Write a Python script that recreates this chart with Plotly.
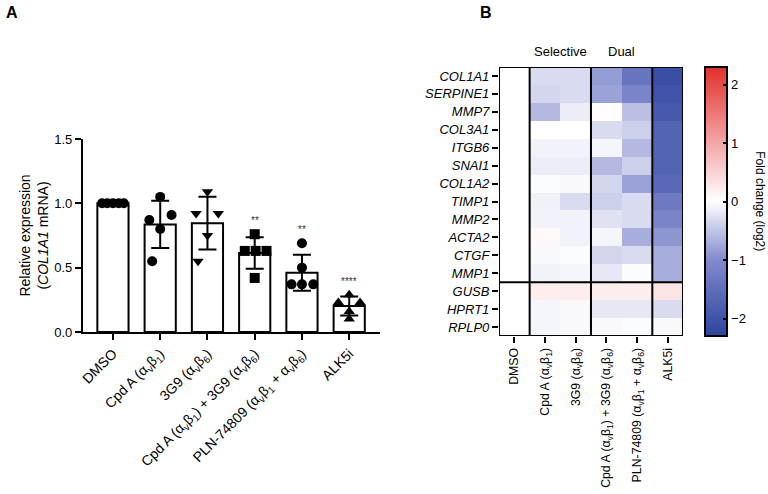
import numpy as np
import plotly.graph_objects as go

# ---------------- Panel A data ----------------
groups = ["DMSO", "Cpd A (α<sub>v</sub>β<sub>1</sub>)", "3G9 (α<sub>v</sub>β<sub>6</sub>)",
          "Cpd A (α<sub>v</sub>β<sub>1</sub>) + 3G9 (α<sub>v</sub>β<sub>6</sub>)",
          "PLN-74809 (α<sub>v</sub>β<sub>1</sub> + α<sub>v</sub>β<sub>6</sub>)", "ALK5i"]
dmso_vals = [1.0, 1.0, 1.0, 1.0, 1.0]
cpda_vals = [1.05, 0.87, 0.91, 0.80, 0.55]
g3g9_vals = [1.09, 0.92, 0.92, 0.75, 0.55]
combo_vals = [0.76, 0.63, 0.63, 0.63, 0.42]
pln_vals = [0.69, 0.50, 0.37, 0.37, 0.37]
alk5i_vals = [0.29, 0.23, 0.23, 0.16, 0.10]
point_sets = [dmso_vals, cpda_vals, g3g9_vals, combo_vals, pln_vals, alk5i_vals]
significance = ["", "", "", "**", "**", "****"]
y_ticks = [0, 0.5, 1.0, 1.5]
# horizontal spread of the scatter points (style)
spread = [[-0.23, -0.12, 0.0, 0.12, 0.23],
          [0.0, -0.23, 0.24, 0.0, -0.17],
          [0.0, -0.24, 0.23, 0.0, -0.2],
          [0.0, -0.21, 0.25, 0.02, 0.0],
          [0.0, 0.0, -0.22, 0.0, 0.24],
          [0.0, -0.23, 0.23, 0.0, 0.0]]
symbols = ["circle", "circle", "triangle-down", "square", "circle", "triangle-up"]

# ---------------- Panel B data ----------------
genes = ["COL1A1", "SERPINE1", "MMP7", "COL3A1", "ITGB6", "SNAI1", "COL1A2", "TIMP1",
         "MMP2", "ACTA2", "CTGF", "MMP1", "GUSB", "HPRT1", "RPLP0"]
hm_dmso = [0.0] * 15
hm_cpda = [-0.3, -0.35, -0.6, 0.0, -0.1, -0.15, -0.03, -0.12, -0.1, 0.08, -0.05, -0.1, 0.2, -0.08, -0.08]
hm_3g9 = [-0.3, -0.3, -0.15, 0.0, -0.1, -0.15, -0.05, -0.3, -0.1, -0.1, -0.03, -0.08, 0.2, -0.05, -0.05]
hm_combo = [-0.85, -0.8, 0.02, -0.3, -0.08, -0.6, -0.35, -0.4, -0.25, -0.08, -0.35, -0.2, 0.2, -0.2, -0.05]
hm_pln = [-1.4, -1.1, -0.55, -0.4, -0.6, -0.4, -0.8, -0.3, -0.3, -0.7, -0.3, -0.03, 0.2, -0.2, -0.03]
hm_alk5i = [-2.1, -2.0, -1.9, -1.7, -1.7, -1.7, -1.6, -1.3, -1.1, -0.9, -0.7, -0.7, 0.3, -0.3, -0.05]
hm_columns = [hm_dmso, hm_cpda, hm_3g9, hm_combo, hm_pln, hm_alk5i]
cbar_ticks = [-2, -1, 0, 1, 2]

FONT = "Liberation Sans, Arial, sans-serif"
FS = 13
fig = go.Figure()

# bars
means = [float(np.mean(v)) for v in point_sets]
sds = [float(np.std(v, ddof=1)) for v in point_sets]
idx = list(range(len(groups)))
fig.add_trace(go.Bar(x=idx, y=means, width=0.66, marker=dict(color="white", line=dict(color="black", width=2)),
                     error_y=dict(type="data", array=sds, visible=True, color="black", thickness=2, width=9),
                     xaxis="x", yaxis="y", showlegend=False))
for i, vals in enumerate(point_sets):
    fig.add_trace(go.Scatter(x=[i + s for s in spread[i]], y=vals, mode="markers",
                             marker=dict(symbol=symbols[i], size=10, color="black"),
                             xaxis="x", yaxis="y", showlegend=False, cliponaxis=False))
for i, s in enumerate(significance):
    if s:
        top = max(max(point_sets[i]), means[i] + sds[i])
        fig.add_annotation(x=i, y=top, yshift=6, text=s, showarrow=False, xref="x", yref="y",
                           yanchor="bottom", font=dict(size=10, color="#333333", family=FONT))

# heatmap
z = np.array(hm_columns).T
fig.add_trace(go.Heatmap(z=z, x=list(range(6)), y=list(range(15)), xaxis="x2", yaxis="y2",
                         zmin=-2.3, zmax=2.3,
                         colorscale=[[0, "#2c449e"], [0.28, "#8089cc"], [0.5, "#ffffff"],
                                     [0.72, "#f3a5a5"], [1, "#e1302a"]],
                         colorbar=dict(x=0.918, xanchor="left", y=0.592, yanchor="middle", len=0.5445,
                                       lenmode="fraction", thickness=22, xpad=0, ypad=0,
                                       outlinewidth=2, outlinecolor="black",
                                       tickvals=cbar_ticks, ticks="inside", ticklen=5, tickwidth=2,
                                       tickcolor="black", tickfont=dict(size=FS, family=FONT, color="black")),
                         showscale=True))
fig.add_annotation(x=0.99, y=0.592, xref="paper", yref="paper", text="Fold change (log2)", textangle=90,
                   showarrow=False, xanchor="center", yanchor="middle",
                   font=dict(size=12, family=FONT, color="black"))

# heatmap borders
line = dict(color="black", width=2)
fig.add_shape(type="rect", x0=-0.5, x1=5.5, y0=-0.5, y1=14.5, xref="x2", yref="y2", line=line)
for xb in [0.5, 2.5, 4.5]:
    fig.add_shape(type="line", x0=xb, x1=xb, y0=-0.5, y1=14.5, xref="x2", yref="y2", line=line)
fig.add_shape(type="line", x0=-0.5, x1=5.5, y0=11.5, y1=11.5, xref="x2", yref="y2", line=line)
fig.add_annotation(x=1.5, y=-0.5, yshift=6, text="Selective", showarrow=False, xref="x2", yref="y2",
                   yanchor="bottom", font=dict(size=FS, family=FONT, color="black"))
fig.add_annotation(x=3.5, y=-0.5, yshift=6, text="Dual", showarrow=False, xref="x2", yref="y2",
                   yanchor="bottom", font=dict(size=FS, family=FONT, color="black"))

# panel letters
fig.add_annotation(x=0.005, y=0.995, xref="paper", yref="paper", text="<b>A</b>", showarrow=False,
                   xanchor="left", yanchor="top", font=dict(size=16, family=FONT, color="black"))
fig.add_annotation(x=0.622, y=0.995, xref="paper", yref="paper", text="<b>B</b>", showarrow=False,
                   xanchor="left", yanchor="top", font=dict(size=16, family=FONT, color="black"))

axis_common = dict(showgrid=False, zeroline=False, ticks="outside", automargin=False,
                   ticklen=6, tickwidth=2, tickcolor="black")
tf = lambda s: dict(size=s, family=FONT, color="black")
fig.update_layout(
    width=768, height=494, margin=dict(l=0, r=0, t=0, b=0),
    plot_bgcolor="white", paper_bgcolor="white", font=dict(family=FONT, color="black"),
    xaxis=dict(domain=[0.108, 0.495], range=[-0.635, 5.655], tickvals=idx, ticktext=groups,
               tickangle=-45, anchor="y", linecolor="black", linewidth=2, tickfont=tf(14), **axis_common),
    yaxis=dict(domain=[0.328, 0.7186], range=[0, 1.5], tickvals=y_ticks, tickformat=".1f",
               anchor="x", linecolor="black", linewidth=2, tickfont=tf(13),
               title=dict(text="Relative expression<br>(<i>COL1A1</i> mRNA)",
                          font=dict(size=14, family=FONT, color="black"), standoff=2),
               **axis_common),
    xaxis2=dict(domain=[0.6497, 0.8893], range=[-0.5, 5.5], tickvals=idx, ticktext=groups, tickangle=-90,
                anchor="y2", showline=False, tickfont=tf(12.3), **axis_common),
    yaxis2=dict(domain=[0.3198, 0.8644], range=[14.5, -0.5], tickvals=list(range(15)),
                ticktext=[f"<i>{g}</i>" for g in genes], anchor="x2", showline=False, tickfont=tf(13),
                **axis_common),
)
fig.write_html("out.html", config={"displayModeBar": False},
               post_script="document.body.style.margin='0';document.body.style.overflow='hidden';")
